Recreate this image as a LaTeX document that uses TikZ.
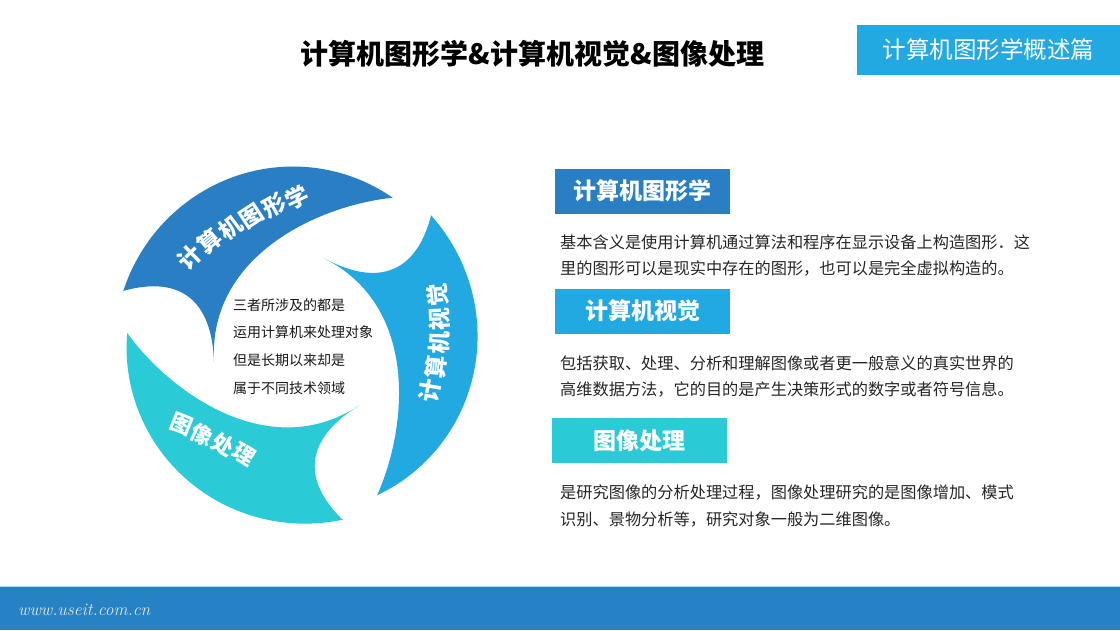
\documentclass[tikz,border=0pt]{standalone}
\usepackage{fontspec}
\setmainfont{Noto Sans CJK SC}
\definecolor{segA}{HTML}{2A7FC4}
\definecolor{segB}{HTML}{22A9E1}
\definecolor{segC}{HTML}{2BCAD7}
\definecolor{barblue}{HTML}{2682C5}
\definecolor{bodytxt}{HTML}{262626}
\begin{document}
\begin{tikzpicture}[x=1pt,y=-1pt,
  segtxt/.style={text=white,font=\bfseries\fontsize{23}{23}\selectfont,inner sep=0pt},
  labelbox/.style={text=white,font=\bfseries\fontsize{23}{23}\selectfont,minimum width=175pt,minimum height=45pt,inner sep=0pt},
  bodyline/.style={anchor=west,text=bodytxt,font=\fontsize{16.2}{16.2}\selectfont,inner sep=0pt},
  midline/.style={anchor=west,text=black!90,font=\fontsize{14}{14}\selectfont,inner sep=0pt}]
\useasboundingbox (0,0) rectangle (1120,630);
\fill[white] (0,0) rectangle (1120,630);

% title
\node[font=\bfseries\fontsize{28}{28}\selectfont,text=black,inner sep=0pt] (title) at (532.5,54) {计算机图形学\&计算机视觉\&图像处理};

% top-right tag
\node[fill=segB,text=white,font=\fontsize{23.5}{23.5}\selectfont,minimum width=263pt,minimum height=50pt,inner sep=0pt] (tag) at (988.5,50) {计算机图形学概述篇};

% swirl segments
\foreach \ang/\col in {0/segA,-120/segB,-240/segC}{
  \fill[\col,rotate around={\ang:(299,342)}] (123,291)
    -- plot[domain=164:57,samples=60] ({299+(172+(\x-57)*11/107)*cos(\x)},{342-(172+(\x-57)*11/107)*sin(\x)})
    .. controls (320,205) and (208,255) .. (214,362)
    .. controls (212,300) and (180,275) .. (123,291) -- cycle;
}

% segment labels
\foreach \c/\px/\py/\r [count=\i] in {计/190/257/44, 算/209.8/241.6/40.4, 机/230.3/227.8/36.8, 图/251.7/215.8/33.2, 形/274/205.6/29.6, 学/297/197/26}
  \node[segtxt,rotate=\r] (ga\i) at (\px,\py) {\c};
\foreach \c/\px/\py/\r [count=\i] in {计/430/391/80, 算/435.8/366.9/84, 机/439/343/88, 视/439.8/318.9/92, 觉/438/295/96}
  \node[segtxt,rotate=\r] (gb\i) at (\px,\py) {\c};
\foreach \c/\px/\py/\r [count=\i] in {图/182/424/-22, 像/202.5/434.5/-26, 处/223/444.5/-29, 理/244/454/-32}
  \node[segtxt,font=\bfseries\fontsize{22}{22}\selectfont,rotate=\r] (gc\i) at (\px,\py) {\c};

% centre text
\node[midline] (m1) at (233,305) {三者所涉及的都是};
\node[midline] (m2) at (233,332) {运用计算机来处理对象};
\node[midline] (m3) at (233,360) {但是长期以来却是};
\node[midline] (m4) at (233,388) {属于不同技术领域};

% right column
\node[labelbox,fill=segA] (b1) at (642.5,191) {计算机图形学};
\node[bodyline] (t1a) at (560,242) {基本含义是使用计算机通过算法和程序在显示设备上构造图形．这};
\node[bodyline] (t1b) at (560,268) {里的图形可以是现实中存在的图形，也可以是完全虚拟构造的。};

\node[labelbox,fill=segB] (b2) at (642.5,311) {计算机视觉};
\node[bodyline] (t2a) at (560,363) {包括获取、处理、分析和理解图像或者更一般意义的真实世界的};
\node[bodyline] (t2b) at (560,389) {高维数据方法，它的目的是产生决策形式的数字或者符号信息。};

\node[labelbox,fill=segC] (b3) at (639.5,440.5) {图像处理};
\node[bodyline] (t3a) at (560,492) {是研究图像的分析处理过程，图像处理研究的是图像增加、模式};
\node[bodyline] (t3b) at (560,519) {识别、景物分析等，研究对象一般为二维图像。};

% bottom bar
\fill[barblue] (0,586) rectangle (1120,630);
\draw[white!60!segB,line width=1pt] (0,586.5) -- (1120,586.5);
\node[anchor=west,inner sep=0pt,text=white!90!black,font=\fontfamily{lmr}\itshape\fontsize{17.5}{17.5}\selectfont] (url) at (18,610) {www.useit.com.cn};
\end{tikzpicture}
\end{document}
